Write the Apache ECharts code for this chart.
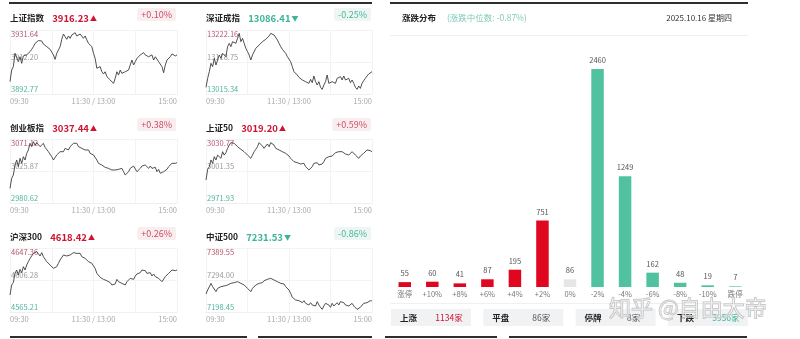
<!DOCTYPE html>
<html><head><meta charset="utf-8">
<script src="https://cdn.jsdelivr.net/npm/echarts@6/dist/echarts.min.js"></script>
<style>html,body{margin:0;padding:0;background:#fff}#c{width:800px;height:339px}</style>
</head><body><div id="c"></div>
<script>
// ---------- mini index charts ----------
const indexNames = ['上证指数','深证成指','创业板指','上证50','沪深300','中证500'];
const lastPrices = ['3916.23','13086.41','3037.44','3019.20','4618.42','7231.53'];
const changes = ['+0.10%','-0.25%','+0.38%','+0.59%','+0.26%','-0.86%'];
const timeTicks = ['09:30','11:30 / 13:00','15:00'];

const ticksSH = [3892.77, 3912.20, 3931.64];
const ticksSZ = [13015.34, 13118.75, 13222.16];
const ticksCY = [2980.62, 3025.87, 3071.12];
const ticks50 = [2971.93, 3001.35, 3030.77];
const ticks300 = [4565.21, 4606.28, 4647.36];
const ticks500 = [7198.45, 7294.00, 7389.55];

const lineSH = [3900.3,3907.3,3909.4,3917.5,3918.5,3912.4,3915.4,3911.4,3915.9,3915.0,3916.5,3917.5,3918.5,3919.9,3921.5,3923.5,3924.6,3925.2,3924.0,3925.0,3923.1,3924.0,3921.5,3922.5,3919.9,3919.5,3916.5,3913.8,3917.5,3919.5,3921.5,3926.0,3929.2,3927.6,3926.0,3928.0,3926.6,3928.6,3929.6,3930.0,3928.0,3927.2,3929.2,3928.6,3926.6,3928.0,3925.6,3923.5,3924.6,3921.5,3917.5,3914.4,3908.4,3907.3,3909.4,3906.3,3904.9,3906.3,3903.3,3902.9,3901.3,3900.3,3899.2,3902.3,3906.3,3904.3,3907.3,3905.3,3904.3,3906.3,3905.3,3907.3,3910.4,3913.4,3910.4,3912.4,3914.4,3913.4,3916.5,3917.5,3917.9,3916.5,3917.5,3915.4,3914.4,3916.5,3913.4,3915.4,3914.4,3912.4,3911.4,3909.4,3905.7,3910.4,3913.4,3912.4,3915.4,3917.1,3916.5,3915.9,3916.5];
const lineSZ = [13036.9,13065.9,13087.5,13114.4,13103.7,13130.6,13109.0,13125.2,13141.4,13130.6,13146.8,13152.1,13136.0,13168.3,13179.1,13168.3,13184.5,13189.9,13179.1,13195.2,13211.4,13184.5,13195.2,13179.1,13162.9,13152.1,13141.4,13125.2,13141.4,13146.8,13162.9,13157.5,13173.7,13168.3,13184.5,13179.1,13192.0,13189.9,13202.8,13211.4,13213.5,13206.0,13200.6,13189.9,13179.1,13168.3,13159.7,13157.5,13146.8,13136.0,13141.4,13119.8,13103.7,13087.5,13092.9,13076.7,13069.2,13073.5,13060.6,13065.9,13055.2,13060.6,13049.8,13062.7,13051.9,13073.5,13055.2,13044.4,13055.2,13036.9,13030.4,13044.4,13055.2,13076.7,13049.8,13044.4,13055.2,13060.6,13049.8,13065.9,13060.6,13071.3,13060.6,13073.5,13060.6,13055.2,13065.9,13051.9,13060.6,13049.8,13036.9,13030.4,13041.2,13033.6,13049.8,13058.4,13065.9,13073.5,13080.0,13084.3,13087.5];
const lineCY = [3001.3,3015.5,3020.2,3034.3,3041.4,3032.0,3043.8,3036.7,3046.1,3041.4,3050.8,3055.6,3065.0,3060.3,3067.3,3062.6,3065.9,3065.0,3060.3,3062.6,3065.0,3059.3,3056.5,3053.2,3050.8,3046.1,3041.4,3043.8,3048.5,3050.8,3053.2,3055.6,3053.2,3057.9,3059.3,3055.6,3060.3,3062.6,3065.0,3067.3,3065.0,3060.3,3062.6,3057.9,3060.3,3055.6,3053.2,3055.6,3050.8,3053.2,3048.5,3046.1,3041.4,3036.7,3037.7,3034.3,3035.8,3031.0,3032.0,3029.6,3031.0,3027.3,3029.6,3027.3,3024.9,3028.2,3026.3,3029.6,3024.9,3020.2,3022.6,3024.9,3029.6,3027.3,3032.9,3031.0,3024.9,3027.3,3029.6,3032.9,3031.0,3034.3,3032.0,3029.6,3032.9,3029.6,3027.3,3031.0,3024.9,3028.2,3022.6,3021.6,3024.9,3023.5,3028.2,3032.0,3034.3,3036.7,3037.7,3036.7,3037.7];
const line50 = [2993.1,3002.9,3005.3,3011.5,3008.4,3014.5,3011.5,3016.0,3014.5,3013.0,3019.1,3016.0,3018.2,3022.2,3025.2,3027.4,3029.2,3026.8,3025.2,3023.7,3024.3,3021.3,3022.2,3019.1,3017.6,3016.0,3014.5,3013.0,3016.0,3019.1,3021.3,3023.7,3027.4,3026.8,3024.3,3022.2,3024.3,3026.2,3023.7,3027.4,3026.8,3025.2,3022.2,3023.7,3020.7,3021.3,3019.1,3020.7,3017.6,3018.2,3015.1,3013.0,3014.5,3009.9,3011.5,3009.0,3009.9,3007.8,3006.9,3008.4,3005.3,3004.7,3002.3,3000.7,3005.3,3008.4,3006.9,3009.0,3006.9,3008.4,3007.8,3009.9,3013.0,3011.5,3014.5,3013.0,3015.1,3016.0,3018.2,3017.6,3019.1,3017.6,3019.1,3018.2,3017.0,3018.2,3016.0,3017.6,3019.1,3018.2,3016.0,3014.5,3013.0,3015.1,3016.0,3017.6,3019.1,3020.7,3021.3,3020.0,3019.1];
const line300 = [4587.0,4599.9,4602.9,4614.8,4619.1,4612.7,4620.0,4615.7,4623.4,4619.1,4625.5,4629.8,4634.1,4637.1,4640.5,4638.4,4642.7,4640.5,4637.1,4641.4,4636.2,4634.1,4629.8,4627.7,4625.5,4623.4,4621.3,4619.1,4623.4,4627.7,4632.0,4634.1,4638.4,4640.5,4637.1,4635.4,4638.4,4640.5,4641.4,4643.9,4640.5,4638.4,4640.5,4636.2,4637.1,4634.1,4635.4,4629.8,4632.0,4627.7,4624.3,4621.3,4614.8,4612.7,4609.7,4611.4,4607.1,4608.4,4605.4,4606.3,4602.9,4599.9,4597.7,4601.2,4607.1,4604.1,4605.4,4602.0,4601.2,4599.9,4604.1,4602.0,4608.4,4610.6,4607.1,4611.4,4614.0,4612.7,4615.7,4619.1,4617.0,4618.3,4614.8,4612.7,4615.7,4611.4,4614.0,4610.6,4611.4,4608.4,4607.1,4604.1,4605.4,4610.6,4612.7,4614.8,4617.0,4619.1,4620.0,4618.3,4619.1];
const line500 = [7252.2,7264.1,7259.2,7284.1,7274.1,7279.1,7259.2,7269.1,7266.1,7274.1,7269.1,7276.1,7274.1,7279.1,7276.1,7284.1,7279.1,7286.0,7282.1,7289.0,7294.0,7284.1,7286.0,7279.1,7274.1,7269.1,7264.1,7259.2,7269.1,7274.1,7279.1,7276.1,7284.1,7289.0,7286.0,7292.0,7289.0,7296.0,7294.0,7299.0,7302.0,7294.0,7299.0,7289.0,7294.0,7284.1,7279.1,7282.1,7274.1,7269.1,7264.1,7254.2,7242.3,7239.2,7234.3,7236.3,7232.3,7229.3,7226.3,7232.3,7224.3,7229.3,7219.4,7226.3,7219.4,7224.3,7216.4,7229.3,7219.4,7212.4,7206.4,7216.4,7224.3,7229.3,7219.4,7212.4,7224.3,7216.4,7222.3,7226.3,7219.4,7229.3,7224.3,7226.3,7219.4,7224.3,7216.4,7219.4,7224.3,7216.4,7212.4,7206.4,7202.4,7212.4,7216.4,7224.3,7219.4,7226.3,7229.3,7232.3,7231.3];

// ---------- distribution chart ----------
const distCategories = ['涨停','+10%','+8%','+6%','+4%','+2%','0%','-2%','-4%','-6%','-8%','-10%','跌停'];
const distCounts = [55,60,41,87,195,751,86,2460,1249,162,48,19,7];
const distTitle = '涨跌分布';
const distMedian = '(涨跌中位数: -0.87%)';
const distDate = '2025.10.16 星期四';
const summaryLabels = ['上涨','平盘','停牌','下跌'];
const summaryCounts = ['1134家','86家','8家','3956家'];
const watermark = '知乎 @自由大帝';

// ---------- build ----------
const FONT = '"Noto Sans CJK SC", "Noto Sans", sans-serif';
const RED = '#cf1230', GREEN = '#3cb497';
const lines = [lineSH, lineSZ, lineCY, line50, line300, line500];
const ticks = [ticksSH, ticksSZ, ticksCY, ticks50, ticks300, ticks500];
const colLeft = [10, 206], colWidth = [167, 166];
const rowTop = [30, 139, 248], rowTitle = [16, 126, 235];
const plotH = 64;

const grid = [], xAxis = [], yAxis = [], series = [], title = [];
lines.forEach((data, i) => {
  const c = i % 2, r = Math.floor(i / 2);
  const L = colLeft[c], W = colWidth[c], T = rowTop[r];
  const tk = ticks[i];
  const down = changes[i].charAt(0) === '-';
  grid.push({left: L, top: T, width: W, height: plotH});
  xAxis.push({
    type: 'category', gridIndex: i, boundaryGap: false,
    data: data.map((_, k) => k),
    axisLine: {lineStyle: {color: '#efefef'}},
    axisTick: {show: false},
    axisLabel: {
      interval: (data.length - 1) / 2 - 1,
      formatter: (v, idx) => timeTicks[Math.round(idx / ((data.length - 1) / 2))],
      fontSize: 7.5, color: '#a8a8a8', margin: 3, fontFamily: FONT,
      alignMinLabel: 'left', alignMaxLabel: 'right'
    },
    splitLine: {show: true, interval: (data.length - 1) / 4 - 1, lineStyle: {color: '#f3f3f3', width: 1}}
  });
  yAxis.push({
    type: 'value', gridIndex: i, min: tk[0], max: tk[2],
    axisLine: {show: false},
    axisTick: {show: false, customValues: tk},
    axisLabel: {
      inside: true, margin: 1, customValues: tk, fontFamily: FONT,
      formatter: v => {
        const s = v.toFixed(2);
        if (Math.abs(v - tk[2]) < 1e-6) return '{hi|' + s + '}';
        if (Math.abs(v - tk[0]) < 1e-6) return '{lo|' + s + '}';
        return '{mid|' + s + '}';
      },
      rich: {
        hi: {color: '#b5566c', fontSize: 7.5, padding: [8, 0, 0, 0], fontFamily: FONT},
        mid: {color: '#9a9a9a', fontSize: 7.5, padding: [0, 0, 10, 0], fontFamily: FONT},
        lo: {color: '#4fb39b', fontSize: 7.5, padding: [0, 0, 10, 0], fontFamily: FONT}
      }
    },
    splitLine: {show: true, lineStyle: {color: '#f3f3f3'}}
  });
  series.push({
    type: 'line', xAxisIndex: i, yAxisIndex: i, data: data,
    showSymbol: false, symbol: 'none', silent: true,
    lineStyle: {color: '#3c3c3c', width: 0.9}
  });
  const col = down ? GREEN : RED;
  title.push({
    left: L, top: rowTitle[r] - 7, padding: 0,
    text: '{n|' + indexNames[i] + '}  {p|' + lastPrices[i] + '}{a|' + (down ? '▼' : '▲') + '}',
    textStyle: {rich: {
      n: {fontSize: 8.5, fontWeight: 'bold', color: '#222', fontFamily: FONT},
      p: {fontSize: 9.5, fontWeight: 'bold', color: col, fontFamily: FONT},
      a: {fontSize: 7, color: col, fontFamily: FONT, padding: [0, 0, 0, 1]}
    }}
  });
  title.push({
    right: 800 - (L + W) + 1, top: rowTitle[r] - 8, padding: [2, 4],
    backgroundColor: down ? '#edf6f3' : '#f8eef0', borderRadius: 2,
    text: changes[i],
    textStyle: {fontSize: 9, fontWeight: 'normal', color: down ? '#45b79c' : '#cf4b62', fontFamily: FONT}
  });
});

// distribution chart grid
const gi = lines.length;
const zeroIdx = distCategories.indexOf('0%');
grid.push({left: 391, top: 69, width: 358, height: 218});
xAxis.push({
  type: 'category', gridIndex: gi, data: distCategories,
  axisLine: {show: false}, axisTick: {show: false},
  axisLabel: {interval: 0, fontSize: 7.5, color: '#777', margin: 3, fontFamily: FONT}
});
yAxis.push({type: 'value', gridIndex: gi, min: 0, max: Math.max(...distCounts), show: false, splitLine: {show: false}});
series.push({
  type: 'bar', xAxisIndex: gi, yAxisIndex: gi, data: distCounts, barWidth: 12.5,
  itemStyle: {color: p => p.dataIndex < zeroIdx ? '#e0061f' : (p.dataIndex === zeroIdx ? '#e6e6e6' : '#50c2a0')},
  label: {show: true, position: 'top', distance: 5, fontSize: 7.5, color: '#555', fontFamily: FONT}
});

// decorations / header / summary
const graphic = [
  {type: 'rect', shape: {x: 9, y: 2, width: 363, height: 2}, style: {fill: '#2e2e2e'}},
  {type: 'rect', shape: {x: 390, y: 2, width: 358, height: 2}, style: {fill: '#2e2e2e'}},
  {type: 'rect', shape: {x: 10, y: 336, width: 237, height: 2}, style: {fill: '#2e2e2e'}},
  {type: 'rect', shape: {x: 258, y: 336, width: 114, height: 2}, style: {fill: '#2e2e2e'}},
  {type: 'rect', shape: {x: 385, y: 336, width: 112, height: 2}, style: {fill: '#2e2e2e'}},
  {type: 'rect', shape: {x: 509, y: 336, width: 238, height: 2}, style: {fill: '#2e2e2e'}},
  {type: 'rect', shape: {x: 390, y: 35, width: 358, height: 1}, style: {fill: '#efefef'}},
  {type: 'rect', shape: {x: 390, y: 303, width: 358, height: 1}, style: {fill: '#f0f0f0'}},
  {type: 'text', x: 402, y: 18, style: {text: distTitle, fontSize: 8.5, fontWeight: 'bold', fill: '#222', verticalAlign: 'middle', fontFamily: FONT}},
  {type: 'text', x: 447, y: 18, style: {text: distMedian, fontSize: 8.5, fill: '#7fcbb9', verticalAlign: 'middle', fontFamily: FONT}},
  {type: 'text', x: 732, y: 18, style: {text: distDate, fontSize: 8, fill: '#333', align: 'right', verticalAlign: 'middle', fontFamily: FONT}}
];
const countColors = [RED, '#555', '#555', GREEN];
summaryLabels.forEach((lab, i) => {
  const bx = 391 + i * 92.3;
  graphic.push({type: 'rect', shape: {x: bx, y: 309, width: 80, height: 17}, style: {fill: '#f1f2f4'}});
  graphic.push({type: 'text', x: bx + 9, y: 318, style: {text: lab, fontSize: 8.5, fontWeight: 'bold', fill: '#222', verticalAlign: 'middle', fontFamily: FONT}});
  graphic.push({type: 'text', x: bx + 58, y: 318, style: {text: summaryCounts[i], fontSize: 8.5, fill: countColors[i], align: 'center', verticalAlign: 'middle', fontFamily: FONT}});
});
graphic.push({type: 'text', x: 609, y: 308, z: 100, style: {text: watermark, fontSize: 22, fill: 'rgba(255,255,255,0.35)', stroke: '#bfbfbf', lineWidth: 1, verticalAlign: 'middle', fontFamily: FONT}});

const chart = echarts.init(document.getElementById('c'), null, {renderer: 'canvas'});
chart.setOption({
  animation: false,
  backgroundColor: '#fff',
  textStyle: {fontFamily: FONT},
  title, grid, xAxis, yAxis, series, graphic
});
</script></body></html>
